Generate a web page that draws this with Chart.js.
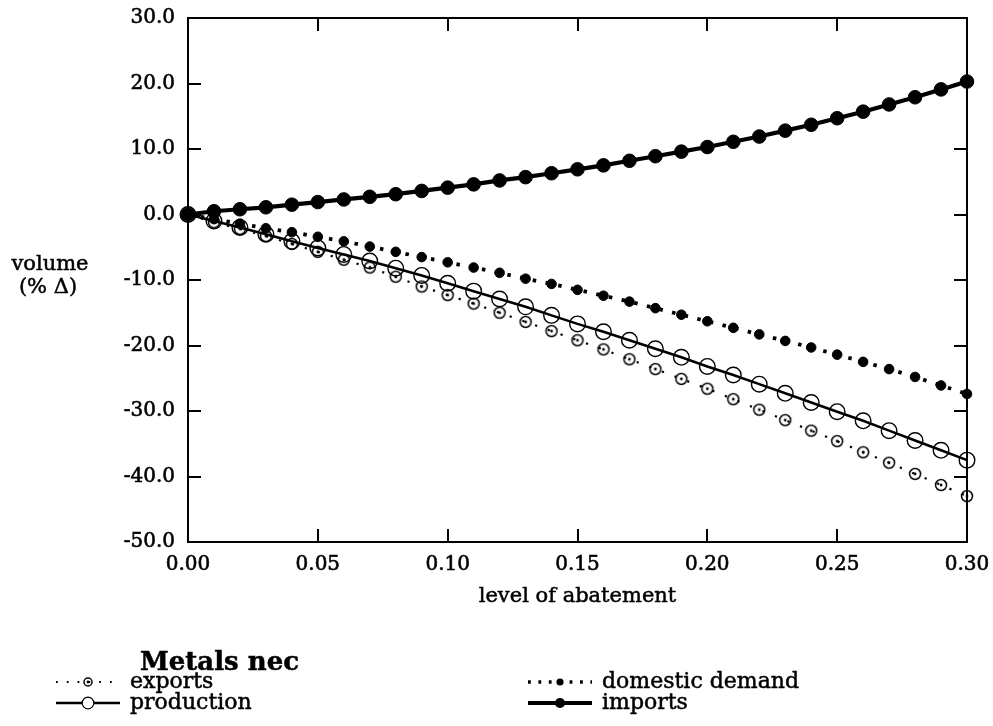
<!DOCTYPE html>
<html>
<head>
<meta charset="utf-8">
<script src="https://cdn.jsdelivr.net/npm/chart.js@4"></script>
<style>
  body { margin: 0; background: #fff; }
  canvas { display: block; }
</style>
</head>
<body>
<canvas id="myChart" width="993" height="726"></canvas>
<script>
// level of abatement (x) and volume changes in % (y)
const abatement = [0.00, 0.01, 0.02, 0.03, 0.04, 0.05, 0.06, 0.07, 0.08, 0.09, 0.10,
  0.11, 0.12, 0.13, 0.14, 0.15, 0.16, 0.17, 0.18, 0.19, 0.20,
  0.21, 0.22, 0.23, 0.24, 0.25, 0.26, 0.27, 0.28, 0.29, 0.30];
const exportsVol = [0, -1.2, -2.2, -3.3, -4.5, -5.7, -6.9, -8.1, -9.5, -11.0, -12.3,
  -13.6, -15.0, -16.4, -17.8, -19.2, -20.6, -22.1, -23.6, -25.1, -26.6,
  -28.2, -29.8, -31.4, -33.0, -34.6, -36.3, -37.9, -39.6, -41.3, -43.0];
const productionVol = [0, -1.0, -2.0, -3.0, -4.1, -5.1, -6.1, -7.1, -8.2, -9.3, -10.5,
  -11.7, -12.9, -14.1, -15.4, -16.7, -17.9, -19.2, -20.5, -21.8, -23.2,
  -24.5, -25.9, -27.3, -28.7, -30.1, -31.5, -33.0, -34.5, -36.0, -37.5];
const domesticVol = [0, -0.7, -1.4, -2.1, -2.7, -3.4, -4.1, -4.9, -5.7, -6.5, -7.3,
  -8.1, -8.9, -9.8, -10.6, -11.5, -12.4, -13.3, -14.3, -15.3, -16.3,
  -17.3, -18.3, -19.3, -20.3, -21.4, -22.5, -23.6, -24.8, -26.1, -27.4];
const importsVol = [0, 0.5, 0.8, 1.1, 1.5, 1.9, 2.3, 2.7, 3.1, 3.6, 4.1,
  4.6, 5.2, 5.7, 6.3, 6.9, 7.5, 8.2, 8.9, 9.6, 10.3,
  11.1, 11.9, 12.8, 13.7, 14.7, 15.7, 16.8, 17.9, 19.1, 20.3];
const yMin = -50, yMax = 30, yStep = 10;
const xMin = 0, xMax = 0.30, xStep = 0.05;

const FONT = '"DejaVu Serif", serif';

// open circle with a dot in the middle, used for exports
function dotCircle(r) {
  const c = document.createElement('canvas');
  const s = 2 * Math.ceil(r + 2);
  c.width = s; c.height = s;
  const g = c.getContext('2d');
  g.strokeStyle = '#000';
  g.lineWidth = 1.5;
  g.beginPath(); g.arc(s / 2, s / 2, r, 0, Math.PI * 2); g.stroke();
  g.fillStyle = '#000';
  g.beginPath(); g.arc(s / 2, s / 2, 1.4, 0, Math.PI * 2); g.fill();
  return c;
}
const exportsMark = dotCircle(5.5);

function pts(ys) {
  return abatement.map((x, i) => ({ x: x, y: ys[i] }));
}

const series = [
  { label: 'exports', data: exportsVol, width: 2.2, dash: [2.2, 11.3], point: exportsMark, radius: 6, fill: 'rgba(0,0,0,0)', pw: 1.5 },
  { label: 'production', data: productionVol, width: 2.6, dash: [], point: 'circle', radius: 7.8, fill: 'rgba(0,0,0,0)', pw: 1.4 },
  { label: 'domestic demand', data: domesticVol, width: 3.8, dash: [3.5, 9.5], point: 'circle', radius: 4.8, fill: '#000', pw: 1 },
  { label: 'imports', data: importsVol, width: 4.2, dash: [], point: 'circle', radius: 6.8, fill: '#000', pw: 1 }
];

function darkText(ctx, txt, x, y) {
  ctx.lineWidth = 0.5;
  ctx.strokeText(txt, x, y);
  ctx.fillText(txt, x, y);
}

const frame = {
  id: 'frame',
  afterDatasetsDraw(chart) {
    const ctx = chart.ctx;
    const a = chart.chartArea;
    const xs = chart.scales.x, ys = chart.scales.y;
    ctx.save();
    ctx.strokeStyle = '#000';
    ctx.lineWidth = 2;
    ctx.strokeRect(a.left, a.top, a.right - a.left, a.bottom - a.top);
    const tl = 13;
    ctx.beginPath();
    xs.ticks.forEach(t => {
      const px = Math.round(xs.getPixelForValue(t.value));
      ctx.moveTo(px, a.bottom); ctx.lineTo(px, a.bottom - tl);
      ctx.moveTo(px, a.top); ctx.lineTo(px, a.top + tl);
    });
    ys.ticks.forEach(t => {
      const py = Math.round(ys.getPixelForValue(t.value));
      ctx.moveTo(a.left, py); ctx.lineTo(a.left + tl, py);
      ctx.moveTo(a.right, py); ctx.lineTo(a.right - tl, py);
    });
    ctx.stroke();
    ctx.restore();
  },
  afterDraw(chart) {
    const ctx = chart.ctx;
    const a = chart.chartArea;
    ctx.save();
    ctx.fillStyle = '#000';
    ctx.strokeStyle = '#000';
    ctx.textAlign = 'center';
    ctx.textBaseline = 'middle';
    ctx.font = '21px ' + FONT;
    darkText(ctx, 'volume', 50, 265);
    darkText(ctx, '(% \u0394)', 48, 288);
    darkText(ctx, 'level of abatement', (a.left + a.right) / 2, 597);

    // legend
    ctx.textAlign = 'left';
    ctx.textBaseline = 'alphabetic';
    ctx.font = 'bold 26px ' + FONT;
    darkText(ctx, 'Metals nec', 140, 670);
    const rows = [
      { s: series[0], x: 130, y: 688 },
      { s: series[1], x: 130, y: 709 },
      { s: series[2], x: 602, y: 688 },
      { s: series[3], x: 602, y: 709 }
    ];
    ctx.font = '22px ' + FONT;
    rows.forEach(r => {
      const s = r.s;
      const cy = r.y - 6;
      const x1 = r.x - 74, x2 = r.x - 10, mx = r.x - 42;
      ctx.save();
      ctx.strokeStyle = '#000';
      ctx.lineWidth = s.width * 0.9;
      ctx.setLineDash(s.dash.map(d => d * 0.8));
      ctx.beginPath(); ctx.moveTo(x1, cy); ctx.lineTo(x2, cy); ctx.stroke();
      ctx.setLineDash([]);
      if (s.point === 'circle') {
        const rr = s.radius * 0.75;
        ctx.beginPath(); ctx.arc(mx, cy, rr, 0, Math.PI * 2);
        if (s.fill === '#000') { ctx.fillStyle = '#000'; ctx.fill(); }
        else { ctx.fillStyle = '#fff'; ctx.fill(); ctx.lineWidth = 1.3; ctx.stroke(); }
      } else {
        const m = dotCircle(4);
        ctx.drawImage(m, Math.round(mx - m.width / 2), Math.round(cy - m.height / 2));
      }
      ctx.restore();
      darkText(ctx, s.label, r.x, r.y);
    });
    ctx.restore();
  }
};

new Chart(document.getElementById('myChart'), {
  type: 'line',
  data: {
    datasets: series.map(s => ({
      label: s.label,
      data: pts(s.data),
      borderColor: '#000',
      borderWidth: s.width,
      borderDash: s.dash,
      pointStyle: s.point,
      pointRadius: s.radius,
      pointBackgroundColor: s.fill,
      pointBorderColor: '#000',
      pointBorderWidth: s.pw,
      tension: 0,
      clip: false
    }))
  },
  options: {
    responsive: false,
    animation: false,
    devicePixelRatio: 1,
    layout: { padding: { left: 0, top: 18, right: 26, bottom: 0 } },
    plugins: { legend: { display: false }, tooltip: { enabled: false } },
    scales: {
      x: {
        type: 'linear', min: xMin, max: xMax,
        afterFit(s) { s.height = 184; s.paddingLeft = 0; s.paddingRight = 0; },
        grid: { display: false, drawTicks: false },
        border: { display: false },
        ticks: {
          stepSize: xStep, padding: 11, color: '#000',
          font: { family: FONT, size: 20 },
          textStrokeColor: '#000', textStrokeWidth: 0.6,
          maxRotation: 0,
          callback: v => Number(v).toFixed(2)
        }
      },
      y: {
        type: 'linear', min: yMin, max: yMax,
        afterFit(s) { s.width = 188; s.paddingTop = 0; s.paddingBottom = 0; },
        grid: { display: false, drawTicks: false },
        border: { display: false },
        ticks: {
          stepSize: yStep, padding: 13, color: '#000',
          font: { family: FONT, size: 20 },
          textStrokeColor: '#000', textStrokeWidth: 0.6,
          callback: v => Number(v).toFixed(1)
        }
      }
    }
  },
  plugins: [frame]
});
</script>
</body>
</html>
